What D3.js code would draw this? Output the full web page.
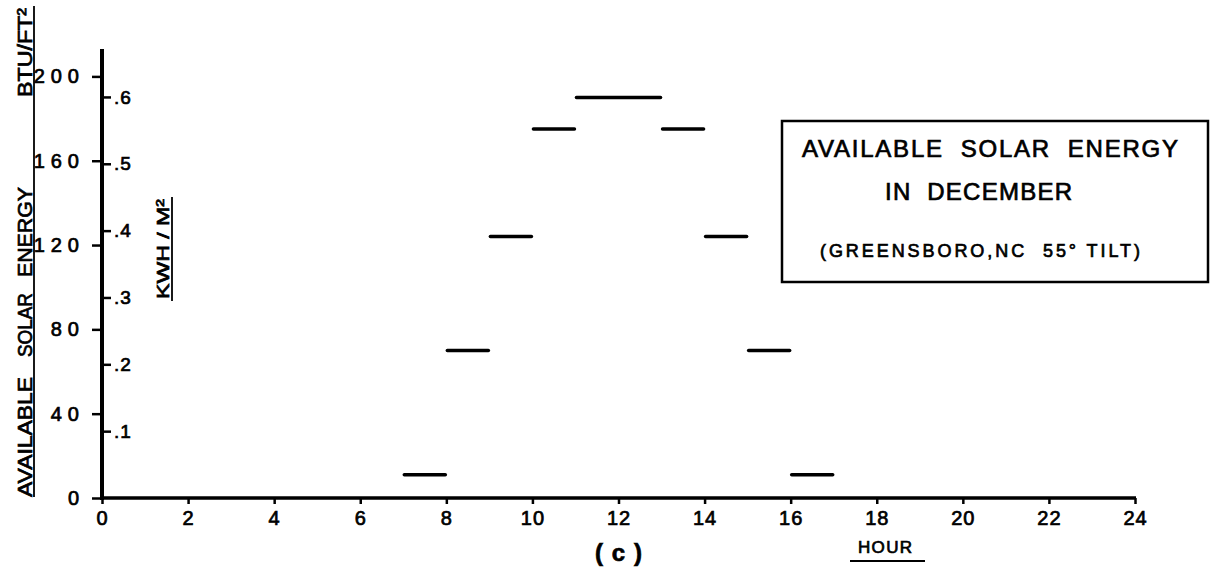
<!DOCTYPE html>
<html>
<head>
<meta charset="utf-8">
<script src="https://cdn.jsdelivr.net/npm/d3@7"></script>
<style>
  html, body { margin: 0; padding: 0; background: #fff; }
  svg { display: block; }
  text { font-family: "Liberation Sans", Arial, sans-serif; fill: #000; stroke: #000; stroke-width: 0.7px; white-space: pre; }
</style>
</head>
<body>
<script>
// ---- data ----
const hourStart = [7, 8, 9, 10, 11, 13, 14, 15, 16];
const hourEnd   = [8, 9, 10, 11, 13, 14, 15, 16, 17];
const energyBtu = [11, 70, 124, 175, 190, 175, 124, 70, 11];   // BTU/ft^2 per hour
const xTicks = [0, 2, 4, 6, 8, 10, 12, 14, 16, 18, 20, 22, 24];
const yTicksBtu = [0, 40, 80, 120, 160, 200];
const yTicksKwh = [0.1, 0.2, 0.3, 0.4, 0.5, 0.6];
const btuPerKwh = 317.1;
const yTitleWords = ["AVAILABLE", "SOLAR", "ENERGY", "BTU/FT\u00B2"];
const titleLines = ["AVAILABLE  SOLAR  ENERGY", "IN  DECEMBER", "(GREENSBORO,NC  55\u00B0 TILT)"];

const W = 1216, H = 568;
const svg = d3.select("body").append("svg").attr("width", W).attr("height", H);

const yMax = 213;
const x = d3.scaleLinear().domain([0, 24]).range([102, 1135]);
const y = d3.scaleLinear().domain([0, yMax]).range([498, 49]);
const y2 = d3.scaleLinear().domain([0, yMax / btuPerKwh]).range([498, 49]);

// left axis (BTU)
const gL = svg.append("g").attr("transform", `translate(${x(0)},0)`)
  .call(d3.axisLeft(y).tickValues(yTicksBtu).tickSize(10).tickPadding(7).tickFormat(d3.format("d")));
gL.select(".domain").remove();
gL.selectAll(".tick line").attr("stroke", "#000").attr("stroke-width", 2.5);
gL.selectAll(".tick text").style("font-size", "20px").style("letter-spacing", "6px");

// right-side ticks (KWH/M2)
const gR = svg.append("g").attr("transform", `translate(${x(0)},0)`)
  .call(d3.axisRight(y2).tickValues(yTicksKwh).tickSize(9).tickPadding(3)
    .tickFormat(d => d3.format(".1f")(d).replace(/^0/, "")));
gR.select(".domain").remove();
gR.selectAll(".tick line").attr("stroke", "#000").attr("stroke-width", 2.5);
gR.selectAll(".tick text").style("font-size", "19px").style("letter-spacing", "1px");

// x axis
const gX = svg.append("g").attr("transform", `translate(0,${y(0)})`)
  .call(d3.axisBottom(x).tickValues(xTicks).tickSize(6).tickPadding(7).tickFormat(d3.format("d")));
gX.select(".domain").remove();
gX.selectAll(".tick line").attr("stroke", "#000").attr("stroke-width", 2.5);
gX.selectAll(".tick text").style("font-size", "20px").style("letter-spacing", "1px");

// axis lines
svg.append("line").attr("x1", x(0)).attr("x2", x(0)).attr("y1", y(yMax)).attr("y2", y(0) + 2)
  .attr("stroke", "#000").attr("stroke-width", 4);
svg.append("line").attr("x1", x(0) - 1).attr("x2", x(24) + 1).attr("y1", y(0)).attr("y2", y(0))
  .attr("stroke", "#000").attr("stroke-width", 3.5);

// hourly level bars
svg.append("g").selectAll("line").data(energyBtu).join("line")
  .attr("x1", (d, i) => x(hourStart[i]) + 1)
  .attr("x2", (d, i) => x(hourEnd[i]) - 1)
  .attr("y1", d => y(d)).attr("y2", d => y(d))
  .attr("stroke", "#000").attr("stroke-width", 3.5).attr("stroke-linecap", "round");

// y axis title (BTU), word by word: [bottom y, top y]
const yTitleSpans = [[497, 377], [357, 293], [277, 187], [97, 8]];
svg.append("g").selectAll("text").data(yTitleWords).join("text")
  .attr("transform", (d, i) => `translate(32,${yTitleSpans[i][0]}) rotate(-90)`)
  .attr("textLength", (d, i) => yTitleSpans[i][0] - yTitleSpans[i][1])
  .attr("lengthAdjust", "spacingAndGlyphs")
  .style("font-size", "20px")
  .text(d => d);
svg.append("line").attr("x1", 34).attr("x2", 34).attr("y1", 497).attr("y2", 6)
  .attr("stroke", "#000").attr("stroke-width", 1.8);

// y axis title (KWH/M2)
svg.append("text")
  .attr("transform", "translate(169,299) rotate(-90)")
  .attr("textLength", 100).attr("lengthAdjust", "spacingAndGlyphs")
  .style("font-size", "17px")
  .text("KWH / M\u00B2");
svg.append("line").attr("x1", 172).attr("x2", 172).attr("y1", 301).attr("y2", 197)
  .attr("stroke", "#000").attr("stroke-width", 1.8);

// title box
svg.append("rect").attr("x", 782).attr("y", 121).attr("width", 426).attr("height", 161)
  .attr("fill", "none").attr("stroke", "#000").attr("stroke-width", 2.5);
svg.append("text").attr("x", 802).attr("y", 157).attr("textLength", 376).attr("lengthAdjust", "spacing")
  .style("font-size", "24px").text(titleLines[0]);
svg.append("text").attr("x", 885).attr("y", 200).attr("textLength", 187).attr("lengthAdjust", "spacing")
  .style("font-size", "24px").text(titleLines[1]);
svg.append("text").attr("x", 820).attr("y", 257).attr("textLength", 320).attr("lengthAdjust", "spacing")
  .style("font-size", "18px").text(titleLines[2]);

// (c) and HOUR
svg.append("text").attr("x", 595).attr("y", 561).attr("textLength", 47).attr("lengthAdjust", "spacing")
  .style("font-size", "24px").style("font-weight", "bold").text("(c)");
svg.append("text").attr("x", 858).attr("y", 553).attr("textLength", 54).attr("lengthAdjust", "spacing")
  .style("font-size", "17px").text("HOUR");
svg.append("line").attr("x1", 850).attr("x2", 925).attr("y1", 561).attr("y2", 561)
  .attr("stroke", "#000").attr("stroke-width", 2);
</script>
</body>
</html>
